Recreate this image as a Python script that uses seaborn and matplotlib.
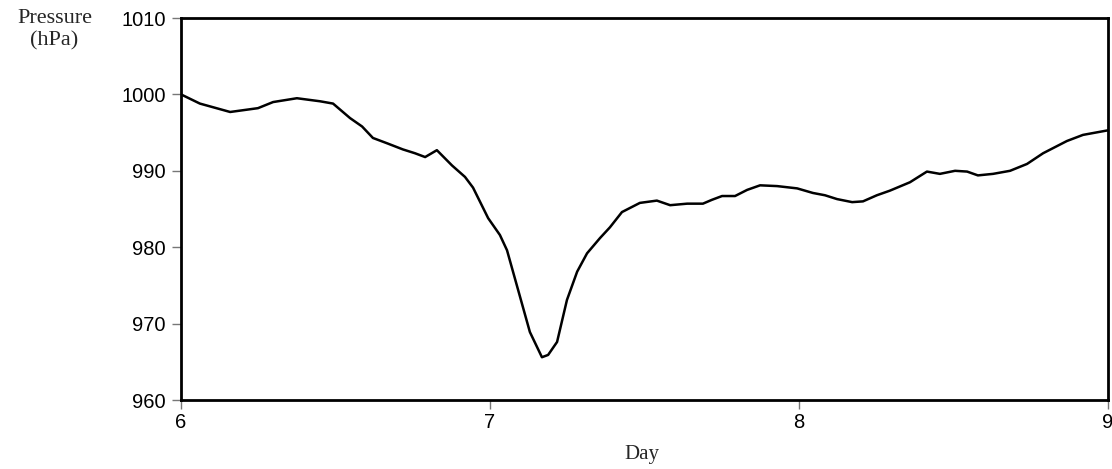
import numpy as np
import pandas as pd
import matplotlib
matplotlib.use("Agg")
import matplotlib.pyplot as plt
import seaborn as sns

# values
DAY = [6.000, 6.061, 6.159, 6.249, 6.298, 6.375, 6.450, 6.492, 6.547, 6.586,
       6.621, 6.667, 6.718, 6.757, 6.790, 6.828, 6.877, 6.919, 6.945, 6.994,
       7.032, 7.055, 7.091, 7.129, 7.168, 7.188, 7.217, 7.249, 7.282, 7.314,
       7.356, 7.388, 7.427, 7.485, 7.540, 7.583, 7.638, 7.689, 7.718, 7.751,
       7.793, 7.832, 7.874, 7.929, 7.994, 8.045, 8.084, 8.123, 8.172, 8.207,
       8.252, 8.294, 8.359, 8.414, 8.456, 8.505, 8.544, 8.579, 8.628, 8.683,
       8.738, 8.790, 8.867, 8.919, 9.000]
PRESSURE = [1000.0, 998.8, 997.7, 998.2, 999.0, 999.5, 999.1, 998.8, 996.9, 995.8,
            994.3, 993.6, 992.8, 992.3, 991.8, 992.7, 990.7, 989.2, 987.8, 983.8,
            981.6, 979.6, 974.4, 968.9, 965.6, 965.9, 967.6, 973.1, 976.8, 979.2,
            981.2, 982.6, 984.6, 985.8, 986.1, 985.5, 985.7, 985.7, 986.2, 986.7,
            986.7, 987.5, 988.1, 988.0, 987.7, 987.1, 986.8, 986.3, 985.9, 986.0,
            986.8, 987.4, 988.5, 989.9, 989.6, 990.0, 989.9, 989.4, 989.6, 990.0,
            990.9, 992.3, 993.9, 994.7, 995.3]
X_TICKS = [6, 7, 8, 9]
Y_TICKS = [960, 970, 980, 990, 1000, 1010]

sns.set_theme(style="ticks")
plt.rcParams["font.family"] = ["Liberation Sans", "DejaVu Sans"]

df = pd.DataFrame({"Day": DAY, "Pressure": PRESSURE})

fig = plt.figure(figsize=(11.12, 4.69), dpi=100)
ax = fig.add_axes([0.1628, 0.1471, 0.8336, 0.8145])

sns.lineplot(data=df, x="Day", y="Pressure", color="black", linewidth=1.8,
             solid_joinstyle="round", solid_capstyle="round", ax=ax)

ax.set_xlim(6, 9)
ax.set_ylim(960, 1010)
ax.set_xticks(X_TICKS)
ax.set_yticks(Y_TICKS)
ax.tick_params(axis="both", direction="out", length=6.5, width=1, color="#777777",
               labelsize=14.5, labelcolor="black")
ax.tick_params(axis="x", pad=3)
ax.tick_params(axis="y", pad=4.5)

for side in ["left", "right", "top", "bottom"]:
    ax.spines[side].set_visible(True)
    ax.spines[side].set_color("black")
    ax.spines[side].set_linewidth(2)

ax.set_xlabel("")
ax.set_ylabel("")
fig.text(0.577, 0.030, "Day", ha="center", va="center",
         family="Liberation Serif", fontsize=15)
fig.text(0.049, 0.936, "Pressure\n(hPa)", ha="center", va="center",
         family="Liberation Serif", fontsize=16, linespacing=1.2)

fig.savefig("out.png", dpi=100)
plt.close(fig)
